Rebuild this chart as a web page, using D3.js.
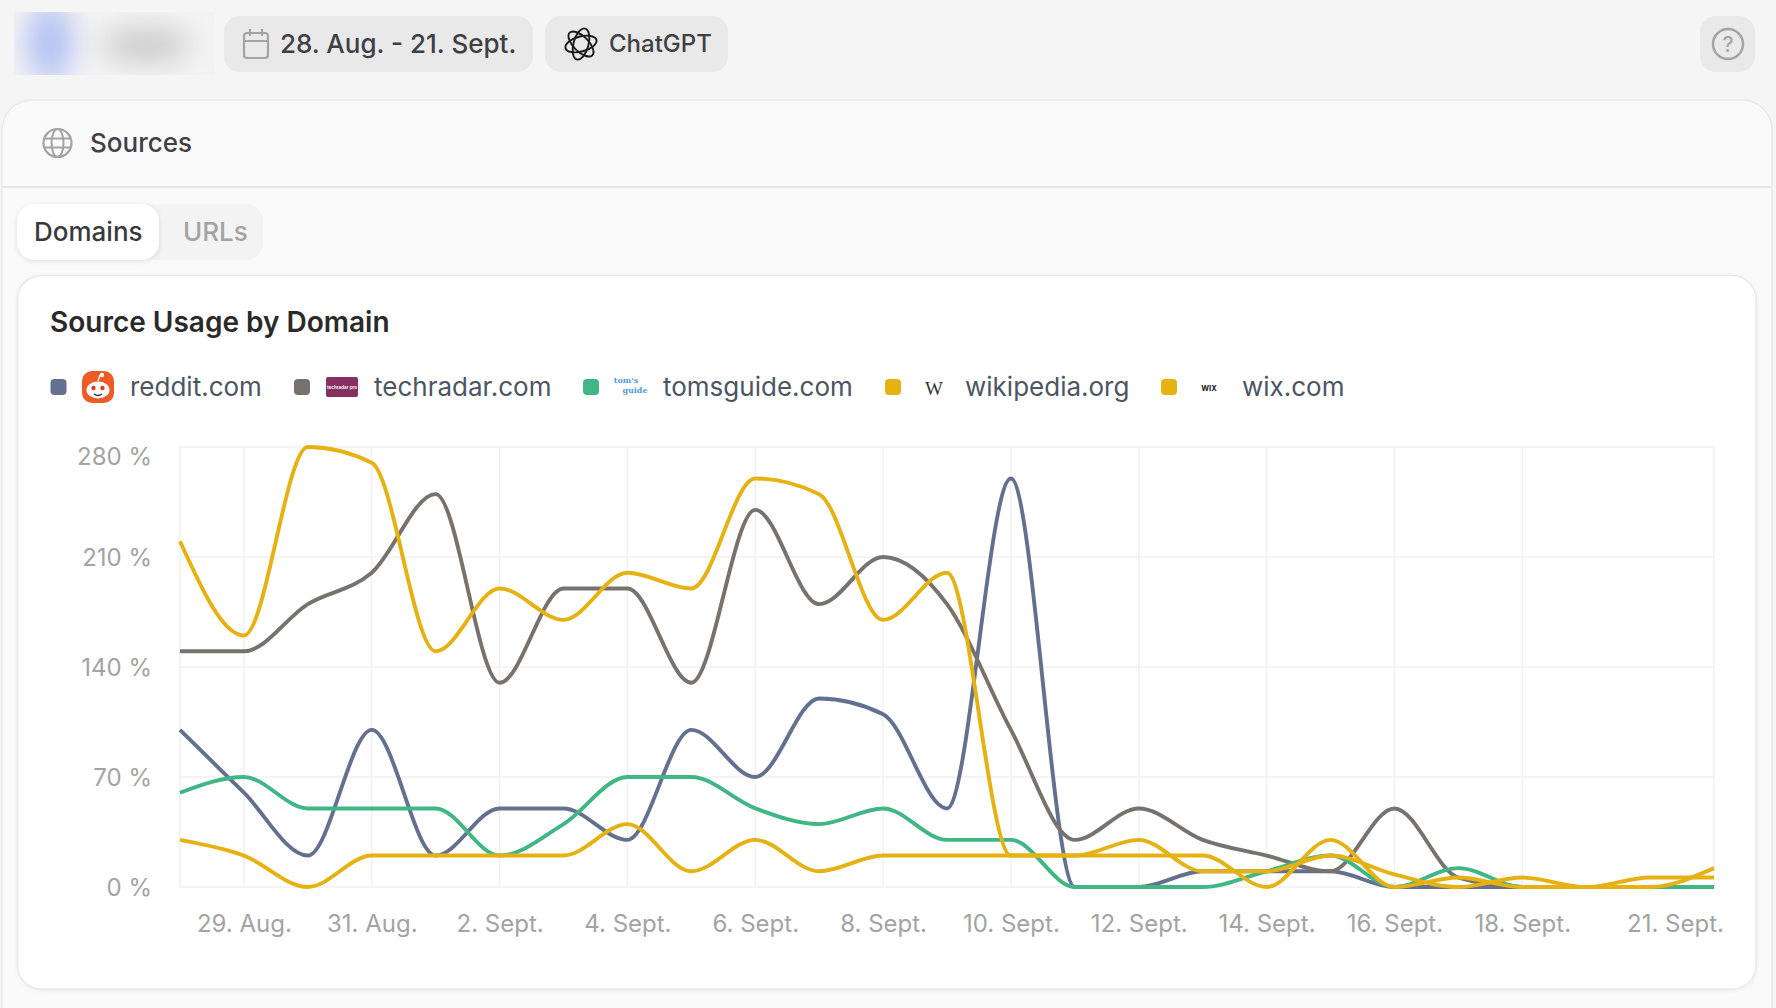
<!DOCTYPE html>
<html lang="en">
<head>
<meta charset="utf-8">
<script src="https://d3js.org/d3.v7.min.js"></script>
<style>
  body { margin: 0; background: #f5f5f5; }
  text { font-family: Inter, "Noto Sans", sans-serif; }
</style>
</head>
<body>
<div id="my_dataviz"></div>
<script>

    // one label per day, 28 Aug to 21 Sept
    var days = ["28. Aug.", "29. Aug.", "30. Aug.", "31. Aug.",
      "1. Sept.", "2. Sept.", "3. Sept.", "4. Sept.", "5. Sept.", "6. Sept.", "7. Sept.", "8. Sept.",
      "9. Sept.", "10. Sept.", "11. Sept.", "12. Sept.", "13. Sept.", "14. Sept.", "15. Sept.", "16. Sept.",
      "17. Sept.", "18. Sept.", "19. Sept.", "20. Sept.", "21. Sept."];
    var xTicks = ["29. Aug.", "31. Aug.", "2. Sept.", "4. Sept.", "6. Sept.", "8. Sept.", "10. Sept.",
      "12. Sept.", "14. Sept.", "16. Sept.", "18. Sept.", "21. Sept."];
    var yTicks = [0, 70, 140, 210, 280];

    // values (%)
    var reddit    = [100, 60, 20, 100, 20, 50, 50, 30, 100, 70, 120, 110, 50, 260, 0, 0, 10, 10, 10, 0, 0, 0, 0, 0, 0];
    var techradar = [150, 150, 180, 200, 250, 130, 190, 190, 130, 240, 180, 210, 180, 100, 30, 50, 30, 20, 10, 50, 6, 0, 0, 0, 0];
    var tomsguide = [60, 70, 50, 50, 50, 20, 40, 70, 70, 50, 40, 50, 30, 30, 0, 0, 0, 10, 20, 0, 12, 0, 0, 0, 0];
    var wikipedia = [220, 160, 280, 270, 150, 190, 170, 200, 190, 260, 250, 170, 200, 20, 20, 20, 20, 0, 30, 0, 6, 0, 0, 0, 12];
    var wix       = [30, 20, 0, 20, 20, 20, 20, 40, 10, 30, 10, 20, 20, 20, 20, 30, 10, 10, 20, 8, 0, 6, 0, 6, 6];

    var seriesNames  = ["reddit.com", "techradar.com", "tomsguide.com", "wikipedia.org", "wix.com"];
    var seriesValues = [reddit, techradar, tomsguide, wikipedia, wix];
    var seriesColors = ["#64708f", "#78716c", "#3fb684", "#e6b112", "#e6b112"];

    var svg = d3.select("#my_dataviz")
      .append("svg")
        .attr("width", 1776)
        .attr("height", 1008)
        .style("display", "block");

    var defs = svg.append("defs");
    defs.append("filter").attr("id", "blur").attr("x", "-80%").attr("y", "-80%").attr("width", "260%").attr("height", "260%")
      .append("feGaussianBlur").attr("stdDeviation", 14);
    defs.append("clipPath").attr("id", "blurClip")
      .append("rect").attr("x", 14).attr("y", 12).attr("width", 200).attr("height", 63);

    function box(x, y, w, h, r, fill, stroke) {
      return svg.append("rect").attr("x", x).attr("y", y).attr("width", w).attr("height", h)
        .attr("rx", r).attr("fill", fill).attr("stroke", stroke || "none");
    }
    function label(x, y, s, size, color, weight) {
      return svg.append("text").attr("x", x).attr("y", y).text(s)
        .attr("font-size", size).attr("fill", color).attr("font-weight", weight || 400);
    }

    // blurred account name, top left
    var blurred = svg.append("g").attr("clip-path", "url(#blurClip)");
    blurred.append("rect").attr("x", 14).attr("y", 12).attr("width", 200).attr("height", 63).attr("fill", "#f3f3f4");
    blurred.append("ellipse").attr("cx", 50).attr("cy", 42).attr("rx", 24).attr("ry", 40).attr("fill", "#b6c3f4").attr("filter", "url(#blur)");
    blurred.append("ellipse").attr("cx", 146).attr("cy", 45).attr("rx", 44).attr("ry", 17).attr("fill", "#cbcbcb").attr("filter", "url(#blur)");

    // top bar
    box(224, 16, 309, 56, 16, "#e9e9e9");
    box(545, 16, 183, 56, 16, "#e9e9e9");
    box(1700, 16, 55, 56, 16, "#e9e9e9");
    label(280, 53, "28. Aug. - 21. Sept.", 26, "#3f3f46", 500);
    label(609, 52, "ChatGPT", 24, "#3f3f46", 500);

    // calendar icon
    box(244, 33, 24, 25, 3, "none", "#a3a3a3").attr("stroke-width", 2.2);
    svg.append("path").attr("d", "M244 41H268M250 29V36M262 29V36").attr("stroke", "#a3a3a3").attr("stroke-width", 2.2).attr("fill", "none");

    // ChatGPT knot icon
    [15, 75, 135].forEach(function(a) {
      svg.append("ellipse").attr("cx", 581).attr("cy", 44).attr("rx", 7.5).attr("ry", 16)
        .attr("transform", "rotate(" + a + " 581 44)")
        .attr("fill", "none").attr("stroke", "#1a1a1a").attr("stroke-width", 1.9);
    });

    // help icon
    svg.append("circle").attr("cx", 1728).attr("cy", 44).attr("r", 15).attr("fill", "none").attr("stroke", "#a3a3a3").attr("stroke-width", 2.4);
    label(1728, 52, "?", 21, "#a3a3a3", 500).attr("text-anchor", "middle");

    // outer card
    box(2, 100, 1770, 960, 30, "#fafafa", "#e9e9e9").attr("stroke-width", 1.5);
    svg.append("line").attr("x1", 2).attr("x2", 1772).attr("y1", 187).attr("y2", 187).attr("stroke", "#e6e6e6").attr("stroke-width", 2);

    // globe icon
    svg.append("circle").attr("cx", 57.5).attr("cy", 143).attr("r", 14).attr("fill", "none").attr("stroke", "#a3a3a3").attr("stroke-width", 2.2);
    svg.append("ellipse").attr("cx", 57.5).attr("cy", 143).attr("rx", 6).attr("ry", 14).attr("fill", "none").attr("stroke", "#a3a3a3").attr("stroke-width", 2);
    svg.append("path").attr("d", "M44 138.5H71M44 147.5H71").attr("stroke", "#a3a3a3").attr("stroke-width", 2);
    label(90, 152, "Sources", 26, "#3f3f46", 500);

    // tabs
    box(17, 204, 246, 56, 17, "#f3f3f3");
    box(17, 204, 142, 56, 17, "#ffffff").style("filter", "drop-shadow(0 1px 2px rgba(0,0,0,0.12))");
    label(34, 241, "Domains", 26, "#3a3a3d", 500);
    label(183, 241, "URLs", 26, "#a3a3a3", 500);

    // inner card
    box(17.5, 275.5, 1738.5, 713.5, 24, "#ffffff", "#e9e9e9").attr("stroke-width", 1.5)
      .style("filter", "drop-shadow(0 1px 2px rgba(0,0,0,0.05))");
    label(50, 332, "Source Usage by Domain", 28, "#2a2a2a", 600);

    // legend
    var legendBox  = [50.5, 294, 583, 885, 1161];
    var legendText = [130, 374, 663, 965, 1242];
    seriesNames.forEach(function(name, i) {
      box(legendBox[i], 379, 16, 16, 4, seriesColors[i]);
      label(legendText[i], 396, name, 26, "#4b5563");
    });

    // legend favicons
    box(82, 371, 32, 32, 10, "#ef5a26");
    svg.append("ellipse").attr("cx", 98).attr("cy", 390).attr("rx", 11.5).attr("ry", 8.5).attr("fill", "#ffffff");
    svg.append("circle").attr("cx", 93.5).attr("cy", 388).attr("r", 2.2).attr("fill", "#d9401a");
    svg.append("circle").attr("cx", 102.5).attr("cy", 388).attr("r", 2.2).attr("fill", "#d9401a");
    svg.append("path").attr("d", "M94 394Q98 397 102 394").attr("fill", "none").attr("stroke", "#333").attr("stroke-width", 1.4);
    svg.append("path").attr("d", "M98 381L100 375").attr("fill", "none").attr("stroke", "#ffffff").attr("stroke-width", 1.4);
    svg.append("circle").attr("cx", 102).attr("cy", 375).attr("r", 2.2).attr("fill", "#ffffff");
    box(326, 377, 32, 20, 2, "#86305f");
    label(342, 389, "techradar pro", 4.6, "#ffffff", 600).attr("text-anchor", "middle");
    label(626, 383, "tom's", 8, "#4f9be0", 800).attr("text-anchor", "middle").style("font-family", "DejaVu Serif");
    label(635, 393, "guide", 8, "#4f9be0", 800).attr("text-anchor", "middle").style("font-family", "DejaVu Serif");
    label(934, 395, "W", 19, "#333333").attr("text-anchor", "middle").style("font-family", "Liberation Serif");
    label(1209, 391, "WIX", 7.5, "#111111", 700).attr("text-anchor", "middle");

    // scales
    var x = d3.scalePoint().domain(days).range([180, 1714]);
    var y = d3.scaleLinear().domain([0, 280]).range([887, 447]);

    // grid
    var grid = svg.append("g").attr("stroke", "#f1f1f1").attr("stroke-width", 1.5);
    xTicks.concat(days[0]).forEach(function(d) {
      grid.append("line").attr("x1", x(d)).attr("x2", x(d)).attr("y1", y(280)).attr("y2", y(0));
    });
    yTicks.forEach(function(d) {
      grid.append("line").attr("x1", 180).attr("x2", 1714).attr("y1", y(d)).attr("y2", y(d));
    });

    // axes
    var xAxis = svg.append("g")
      .attr("transform", "translate(0,887)")
      .call(d3.axisBottom(x).tickValues(xTicks).tickSize(0).tickPadding(30));
    xAxis.select(".domain").remove();
    xAxis.selectAll("text").attr("font-size", 24).attr("fill", "#a3a3a3").style("font-family", "Inter")
      .attr("dy", 0).attr("y", 45);
    // last label is pushed back so it stays on the page
    xAxis.selectAll("text").filter(function(d) { return d === "21. Sept."; }).attr("dx", -39);

    var yAxis = svg.append("g")
      .attr("transform", "translate(152,0)")
      .call(d3.axisLeft(y).tickValues(yTicks).tickSize(0).tickPadding(0).tickFormat(function(d) { return d + " %"; }));
    yAxis.select(".domain").remove();
    yAxis.selectAll("text").attr("font-size", 24).attr("fill", "#a3a3a3").style("font-family", "Inter");
    yAxis.selectAll("text").attr("dy", "0.36em");
    yAxis.selectAll("text").filter(function(d) { return d === 280; }).attr("dy", "0.72em");

    // lines
    var line = d3.line()
      .x(function(d, i) { return x(days[i]); })
      .y(function(d) { return y(d); })
      .curve(d3.curveMonotoneX);

    seriesValues.forEach(function(values, i) {
      svg.append("path")
        .attr("d", line(values))
        .attr("fill", "none")
        .attr("stroke", seriesColors[i])
        .attr("stroke-width", 3.9);
    });

</script>
</body>
</html>
